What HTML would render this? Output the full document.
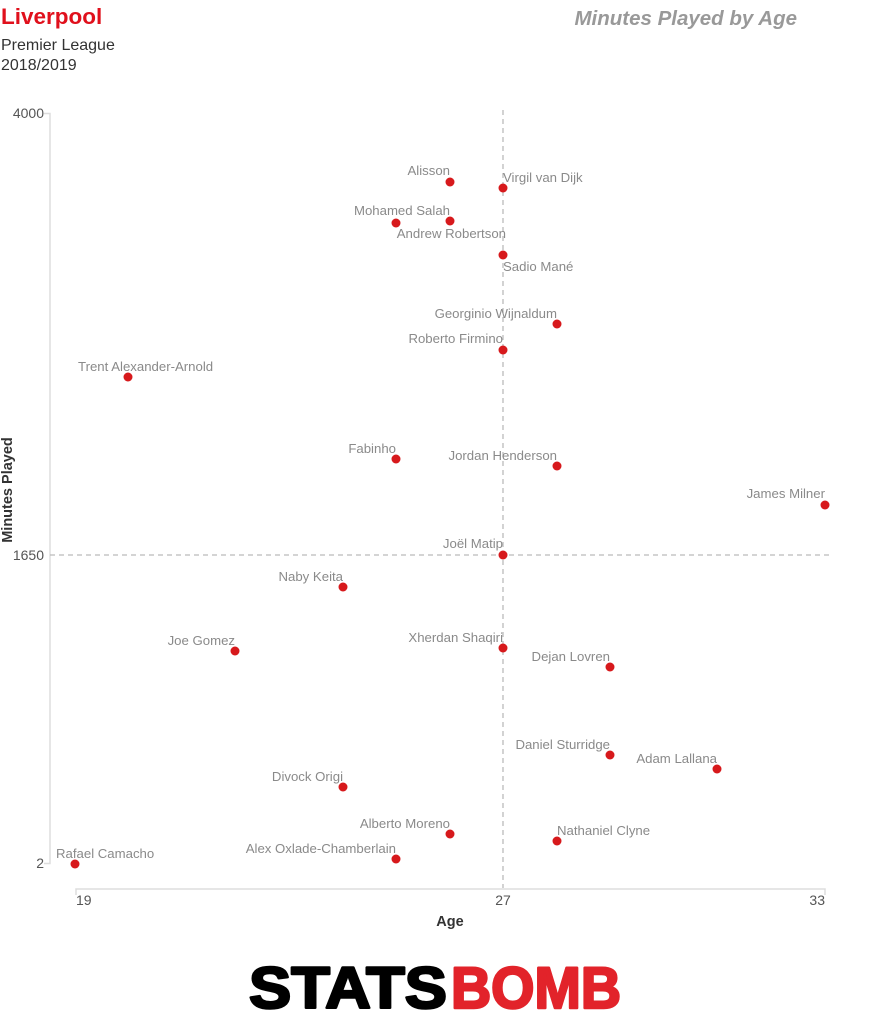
<!DOCTYPE html>
<html><head><meta charset="utf-8"><style>
html,body{margin:0;padding:0;background:#fff;}
svg{display:block;font-family:"Liberation Sans",Arial,sans-serif;}
.l{font-size:13.2px;fill:#8a8a8a;}
.t{font-size:14px;fill:#555;}
</style></head><body>
<svg width="870" height="1030" viewBox="0 0 870 1030">
<text x="1" y="24" font-size="22.5" font-weight="bold" fill="#e0101c">Liverpool</text>
<text x="1" y="50" font-size="16" fill="#333">Premier League</text>
<text x="1" y="70" font-size="16" fill="#333">2018/2019</text>
<text x="797" y="25" font-size="20.5" font-weight="bold" font-style="italic" fill="#999" text-anchor="end">Minutes Played by Age</text>
<g stroke="#ddd" stroke-width="1.5" fill="none">
<path d="M44 113.5H50V863.5H44"/>
<path d="M76 895V889H825V895"/>
</g>
<g stroke="#bbb" stroke-width="1.3" stroke-dasharray="5,4">
<line x1="503" y1="110" x2="503" y2="888"/>
<line x1="50" y1="555" x2="832" y2="555"/>
</g>
<g class="t">
<text x="44" y="118" text-anchor="end">4000</text>
<text x="44" y="560" text-anchor="end">1650</text>
<text x="44" y="868" text-anchor="end">2</text>
<text x="76" y="905">19</text>
<text x="503" y="905" text-anchor="middle">27</text>
<text x="825" y="905" text-anchor="end">33</text>
</g>
<text x="450" y="926" font-size="14.5" font-weight="bold" fill="#333" text-anchor="middle">Age</text>
<text transform="translate(12,490) rotate(-90)" font-size="14.5" font-weight="bold" fill="#333" text-anchor="middle">Minutes Played</text>
<g fill="#d7191c">
<circle cx="450" cy="182" r="4.5"/><circle cx="503" cy="188" r="4.5"/><circle cx="396" cy="223" r="4.5"/><circle cx="450" cy="221" r="4.5"/><circle cx="503" cy="255" r="4.5"/><circle cx="557" cy="324" r="4.5"/><circle cx="503" cy="350" r="4.5"/><circle cx="128" cy="377" r="4.5"/><circle cx="396" cy="459" r="4.5"/><circle cx="557" cy="466" r="4.5"/><circle cx="825" cy="505" r="4.5"/><circle cx="503" cy="555" r="4.5"/><circle cx="343" cy="587" r="4.5"/><circle cx="235" cy="651" r="4.5"/><circle cx="503" cy="648" r="4.5"/><circle cx="610" cy="667" r="4.5"/><circle cx="610" cy="755" r="4.5"/><circle cx="717" cy="769" r="4.5"/><circle cx="343" cy="787" r="4.5"/><circle cx="450" cy="834" r="4.5"/><circle cx="557" cy="841" r="4.5"/><circle cx="396" cy="859" r="4.5"/><circle cx="75" cy="864" r="4.5"/>
</g>
<g class="l">
<text x="450" y="175" text-anchor="end">Alisson</text>
<text x="503" y="182">Virgil van Dijk</text>
<text x="450" y="215" text-anchor="end">Mohamed Salah</text>
<text x="506" y="238" text-anchor="end">Andrew Robertson</text>
<text x="503" y="271">Sadio Mané</text>
<text x="557" y="318" text-anchor="end">Georginio Wijnaldum</text>
<text x="503" y="343" text-anchor="end">Roberto Firmino</text>
<text x="78" y="371">Trent Alexander-Arnold</text>
<text x="396" y="453" text-anchor="end">Fabinho</text>
<text x="557" y="460" text-anchor="end">Jordan Henderson</text>
<text x="825" y="498" text-anchor="end">James Milner</text>
<text x="503" y="548" text-anchor="end">Joël Matip</text>
<text x="343" y="581" text-anchor="end">Naby Keita</text>
<text x="235" y="645" text-anchor="end">Joe Gomez</text>
<text x="503" y="642" text-anchor="end">Xherdan Shaqiri</text>
<text x="610" y="661" text-anchor="end">Dejan Lovren</text>
<text x="610" y="749" text-anchor="end">Daniel Sturridge</text>
<text x="717" y="763" text-anchor="end">Adam Lallana</text>
<text x="343" y="781" text-anchor="end">Divock Origi</text>
<text x="450" y="828" text-anchor="end">Alberto Moreno</text>
<text x="557" y="835">Nathaniel Clyne</text>
<text x="396" y="853" text-anchor="end">Alex Oxlade-Chamberlain</text>
<text x="56" y="858">Rafael Camacho</text>
</g>
<g font-weight="900" font-size="58" stroke-width="2.5" stroke-linejoin="round">
<text x="249" y="1008" fill="#000" stroke="#000" textLength="198" lengthAdjust="spacingAndGlyphs">STATS</text>
<text x="451" y="1008" fill="#e2232a" stroke="#e2232a" textLength="170" lengthAdjust="spacingAndGlyphs">BOMB</text>
</g>
</svg>
</body></html>
